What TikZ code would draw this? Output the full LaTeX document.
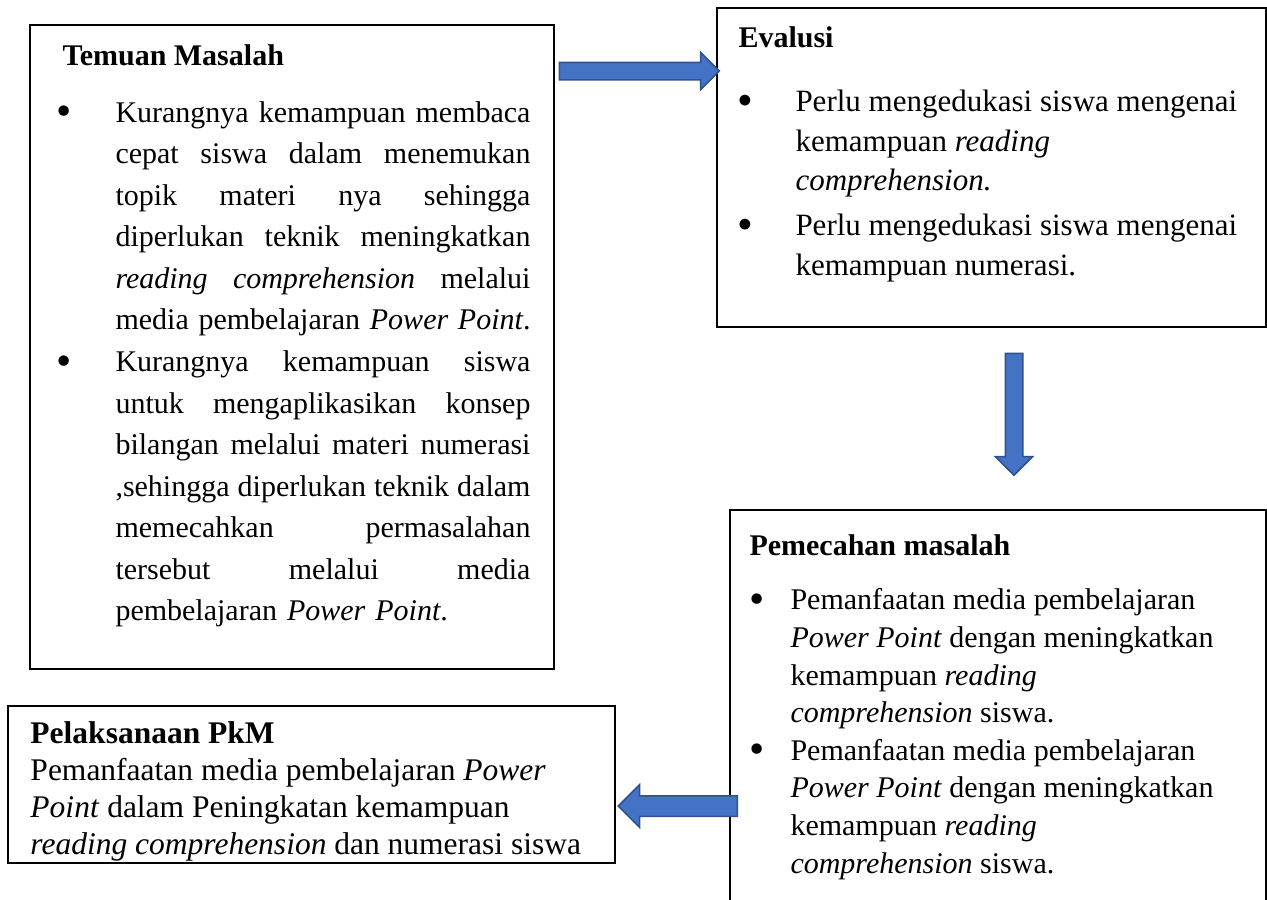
\documentclass[tikz,border=0pt]{standalone}
\usepackage{fontspec}
\setmainfont{Liberation Serif}
\usetikzlibrary{shapes.arrows}

\definecolor{arrowfill}{HTML}{4472C4}
\definecolor{arrowline}{HTML}{2F528F}

\newcommand{\bul}[1]{\makebox[0pt][r]{\raisebox{-0.12em}{\scalebox{1.45}{\textbullet}}\hspace{#1}}}
\newcommand{\jline}[1]{\makebox[166pt][s]{\spaceskip=0.25em plus 1fil\relax#1}}

\begin{document}
\begin{tikzpicture}[x=0.4pt, y=-0.4pt,
            panel/.style = {shape=rectangle, draw=black, line width=0.6pt,
                inner sep=0pt, anchor=north west},
            heading/.style = {anchor=base west, inner sep=0pt,
                font=\fontsize{12}{14}\selectfont\bfseries},
            body/.style = {anchor=base west, inner sep=0pt, align=left},
            blockarrow/.style = {single arrow, fill=arrowfill, draw=arrowline,
                line width=0.6pt, single arrow head extend=4pt,
                single arrow tip angle=90, inner sep=3.2pt, anchor=tail}]

            \clip (0,0) rectangle (1267,900);

            % the four boxes
            \node[panel, minimum width=209.6pt, minimum height=257.6pt] (temuan) at (29,24) {};
            \node[panel, minimum width=219.6pt, minimum height=127.6pt] (evalusi) at (716,7) {};
            \node[panel, minimum width=214.4pt, minimum height=162pt] (pemecahan) at (729,509) {};
            \node[panel, minimum width=242.8pt, minimum height=62.8pt] (pelaksanaan) at (7,705) {};

            % Temuan Masalah (first baseline)
            \node[heading] (temuanHead) at (62,66) {Temuan Masalah};
            \node[body, text width=166pt, font=\fontsize{12}{16.63}\selectfont] (temuanText) at (115,122) {
                \bul{17.6pt}\jline{Kurangnya kemampuan membaca}\\
                \jline{cepat siswa dalam menemukan}\\
                \jline{topik materi nya sehingga}\\
                \jline{diperlukan teknik meningkatkan}\\
                \jline{\textit{reading comprehension} melalui}\\
                \jline{media pembelajaran \textit{Power Point}.}\\
                \bul{17.6pt}\jline{Kurangnya kemampuan siswa}\\
                \jline{untuk mengaplikasikan konsep}\\
                \jline{bilangan melalui materi numerasi}\\
                \jline{,sehingga diperlukan teknik dalam}\\
                \jline{memecahkan permasalahan}\\
                \jline{tersebut melalui media}\\
                pembelajaran \textit{Power Point}.};

            % Evalusi (last baseline)
            \node[heading] (evalusiHead) at (738,47) {Evalusi};
            \node[body, font=\fontsize{12.4}{15.8}\selectfont] (evalusiText) at (795,275) {
                \bul{16.8pt}Perlu mengedukasi siswa mengenai\\
                kemampuan \textit{reading}\\
                \textit{comprehension.}\\[2.2pt]
                \bul{16.8pt}Perlu mengedukasi siswa mengenai\\
                kemampuan numerasi.};

            % Pemecahan masalah
            \node[heading] (pemecahanHead) at (749,555) {Pemecahan masalah};
            \node[body, font=\fontsize{12}{15.04}\selectfont] (pemecahanText) at (790,873) {
                \bul{10.4pt}Pemanfaatan media pembelajaran\\
                \textit{Power Point} dengan meningkatkan\\
                kemampuan \textit{reading}\\
                \textit{comprehension} siswa.\\
                \bul{10.4pt}Pemanfaatan media pembelajaran\\
                \textit{Power Point} dengan meningkatkan\\
                kemampuan \textit{reading}\\
                \textit{comprehension} siswa.};

            % Pelaksanaan PkM
            \node[body, font=\fontsize{12.6}{14.7}\selectfont] (pelaksanaanText) at (30,854) {
                \textbf{Pelaksanaan PkM}\\
                Pemanfaatan media pembelajaran \textit{Power}\\
                \textit{Point} dalam Peningkatan kemampuan\\
                \textit{reading comprehension} dan numerasi siswa};

            % block arrows between the boxes
            \node[blockarrow, minimum height=64pt] (arrowEval) at ([xshift=1.6pt]temuan.east |- 0,71) {};
            \node[blockarrow, minimum height=48.8pt, rotate=-90] (arrowSolve) at ([yshift=-10pt]evalusi.south -| 1014,0) {};
            \node[blockarrow, minimum height=47.6pt, rotate=180, inner sep=3.8pt,
                single arrow head extend=4.4pt] (arrowPkM) at ([xshift=3.6pt]pemecahan.west |- 0,806) {};

        \end{tikzpicture}
\end{document}
